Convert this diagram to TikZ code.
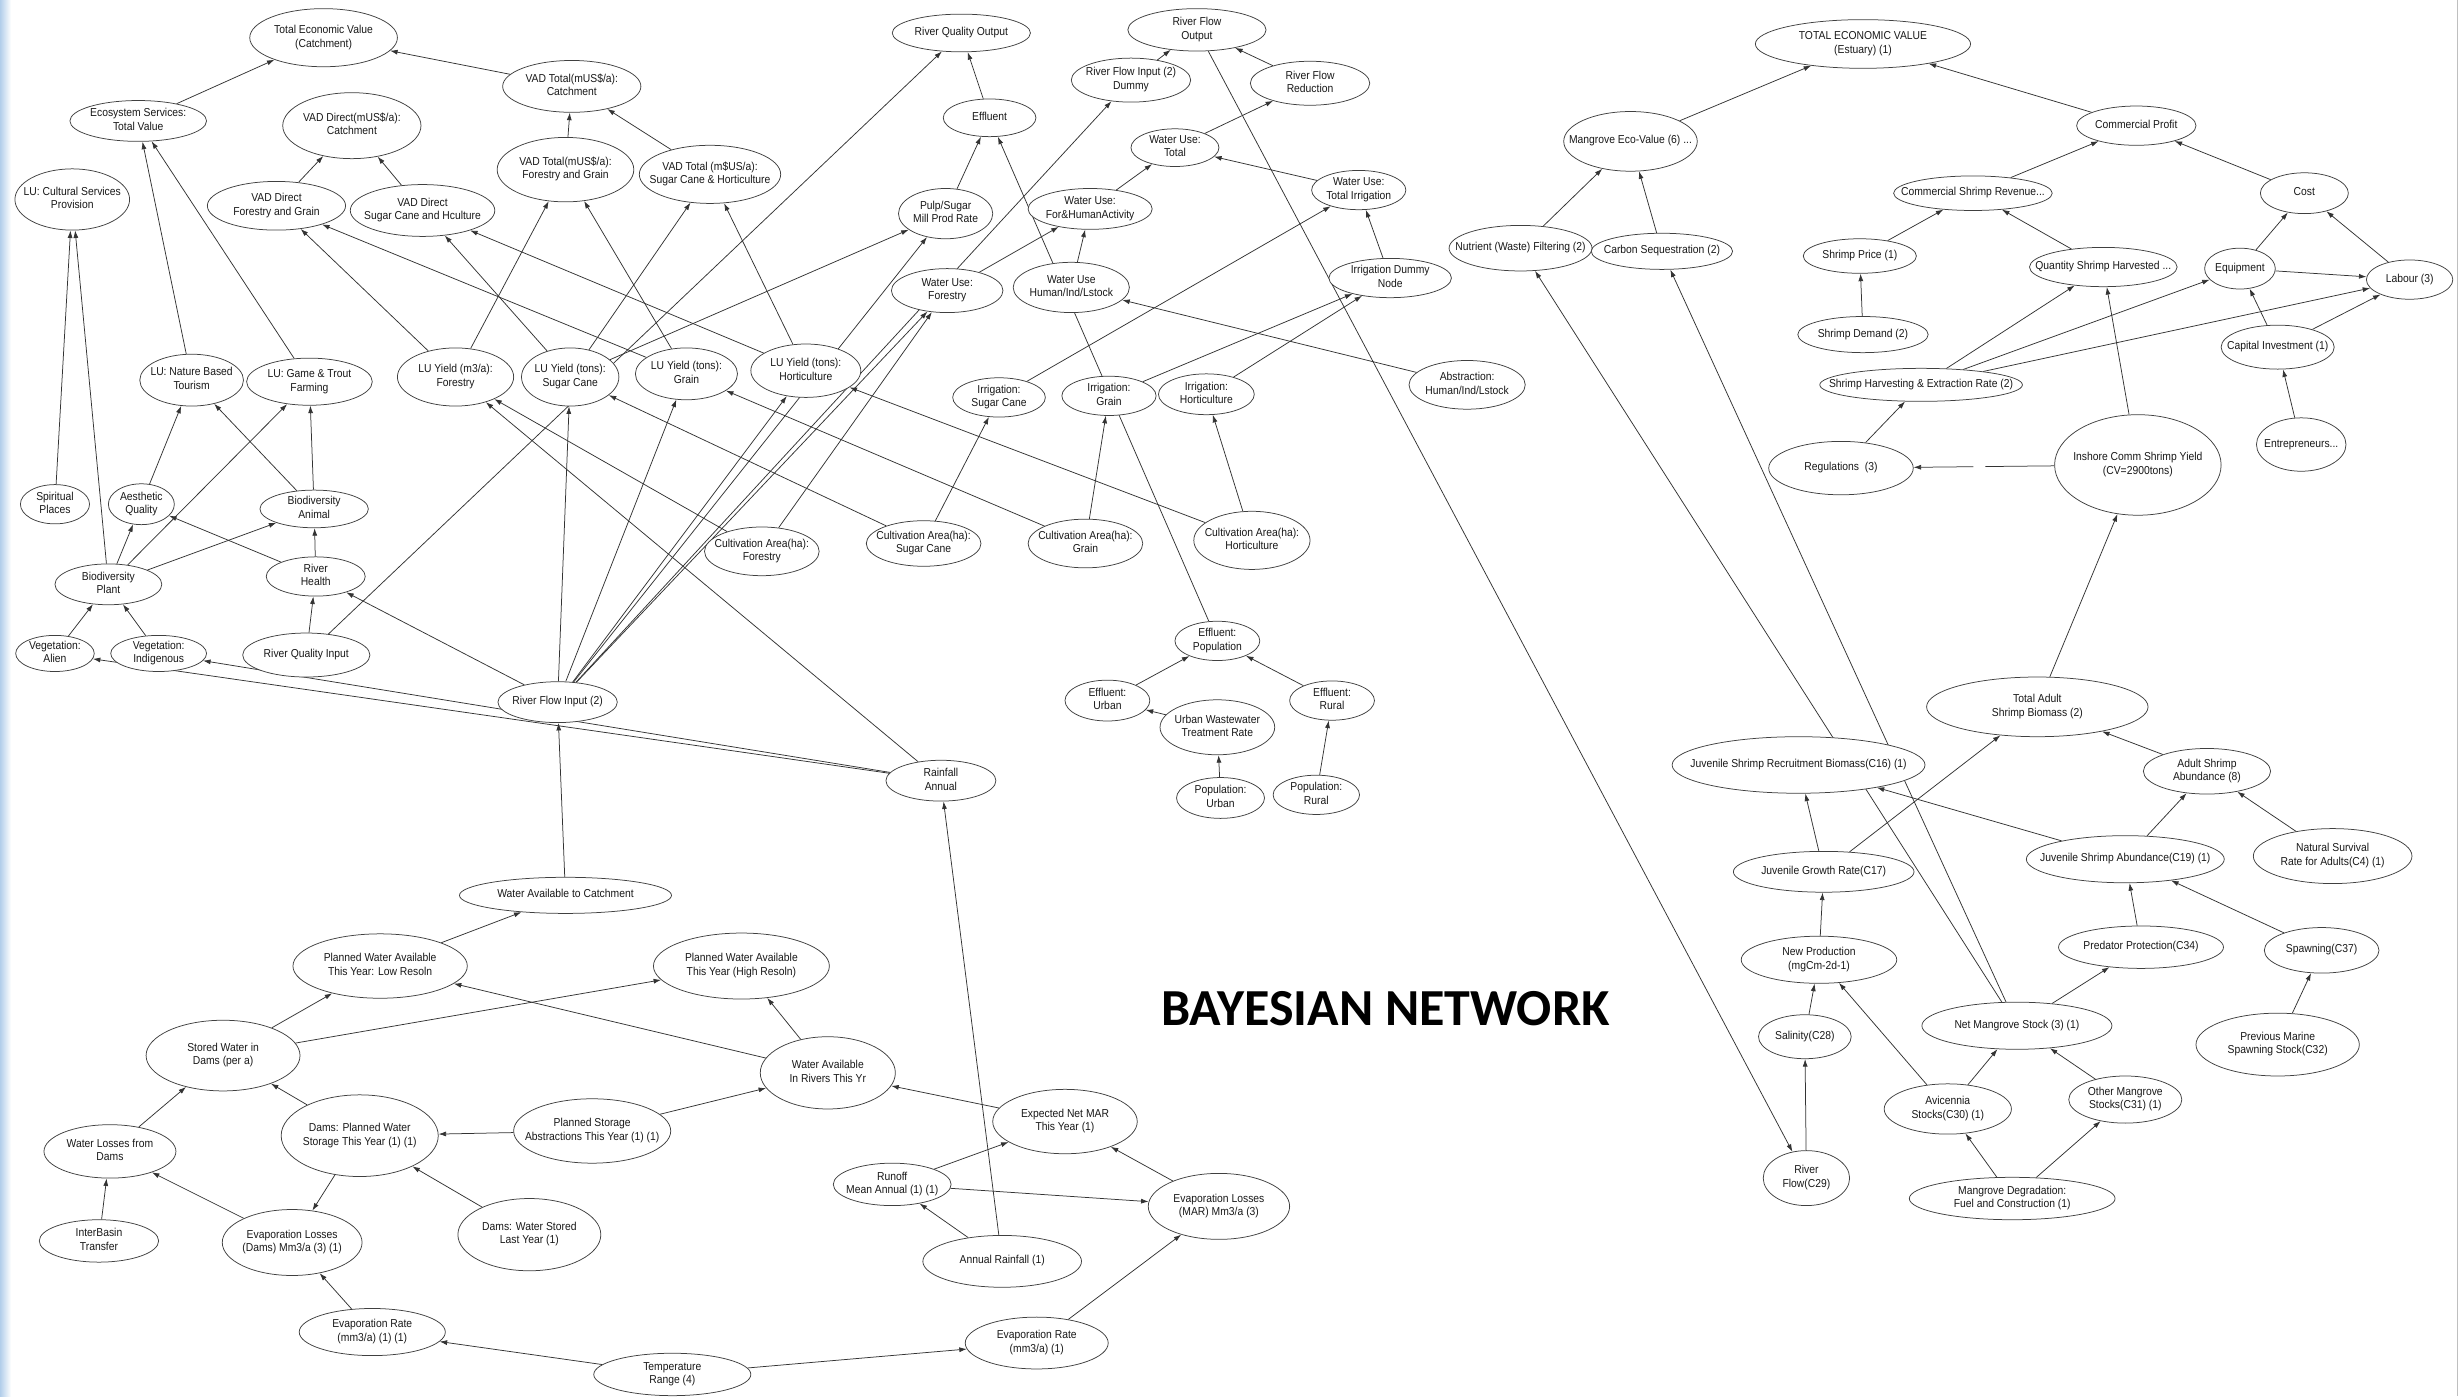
\documentclass[tikz,border=0pt]{standalone}
\usepackage{fontspec}
\setmainfont{Liberation Sans}
\newfontfamily\nodefont{Liberation Sans}[FakeStretch=0.9]
\newfontfamily\titlefont{Carlito}
\usetikzlibrary{shapes.geometric,arrows.meta,backgrounds}
\newcommand{\ntext}[1]{\smash{\raisebox{-0.25em}{\makebox[0pt]{\begin{tabular}{@{}c@{}}#1\end{tabular}}}}}
\newcommand{\EN}[6]{\node[ell, minimum width=#4*1.5708pt, minimum height=#5*1.5708pt] (#1) at (#2,#3) {\ntext{#6}};}
\newcommand{\ED}[2]{\draw[arr] (#1) -- (#2);}
\tikzset{
  ell/.style={ellipse, draw=black!75, line width=0.75pt, fill=white, inner sep=0pt,
              font=\nodefont\fontsize{11.5}{13.5}\selectfont, text=black!90},
  arr/.style={-{Latex[length=7.5pt,width=5pt]}, line width=0.75pt, draw=black!80}
}
\begin{document}
\begin{tikzpicture}[x=1.5708pt,y=-1.5708pt]
\useasboundingbox (0,0) rectangle (1568,889);

% ---------- catchment: value ----------
\EN{TEVc}{206}{24}{94}{37}{Total Economic Value\\(Catchment)}
\EN{VADTc}{364}{55}{88}{33}{VAD Total(mUS\$/a):\\Catchment}
\EN{ESTV}{88}{77}{87}{26}{Ecosystem Services:\\Total Value}
\EN{VADDc}{224}{80}{88}{42}{VAD Direct(mUS\$/a):\\Catchment}
\EN{LUCSP}{46}{127}{73}{39}{LU: Cultural Services\\Provision}
\EN{VADDfg}{176}{131}{88}{31}{VAD Direct\\Forestry and Grain}
\EN{VADDsh}{269}{134}{92}{33}{VAD Direct\\Sugar Cane and Hculture}
\EN{VADTfg}{360}{108}{87}{41}{VAD Total(mUS\$/a):\\Forestry and Grain}
\EN{VADTsh}{452}{111}{90}{37}{VAD Total (m\$US/a):\\Sugar Cane \& Horticulture}
\EN{LUNBT}{122}{242}{66}{33}{LU: Nature Based\\Tourism}
\EN{LUGTF}{197}{243}{80}{30}{LU: Game \& Trout\\Farming}
\EN{LUYfor}{290}{240}{74}{37}{LU Yield (m3/a):\\Forestry}
\EN{LUYsc}{363}{240}{62}{37}{LU Yield (tons):\\Sugar Cane}
\EN{LUYg}{437}{238}{65}{33}{LU Yield (tons):\\Grain}
\EN{LUYh}{513}{236}{70}{34}{LU Yield (tons):\\Horticulture}
% ---------- catchment: water use ----------
\EN{RQO}{612}{21}{88}{24}{River Quality Output}
\EN{RFO}{762}{19}{88}{27}{River Flow\\Output}
\EN{Effl}{630}{75}{59}{24}{Effluent}
\EN{RFItwoD}{720}{51}{76}{28}{River Flow Input (2)\\Dummy}
\EN{WUT}{748}{94}{56}{24}{Water Use:\\Total}
\EN{PSMP}{602}{136}{60}{32}{Pulp/Sugar\\Mill Prod Rate}
\EN{WUFHA}{694}{133}{79}{26}{Water Use:\\For\&HumanActivity}
\EN{WUF}{603}{185}{71}{28}{Water Use:\\Forestry}
\EN{WUH}{682}{183}{74}{32}{Water Use\\Human/Ind/Lstock}
\EN{IrrSC}{636}{253}{59}{25}{Irrigation:\\Sugar Cane}
\EN{IrrG}{706}{252}{60}{25}{Irrigation:\\Grain}
\EN{IrrH}{768}{251}{61}{26}{Irrigation:\\Horticulture}
\EN{RFR}{834}{53}{76}{28}{River Flow\\Reduction}
\EN{WUTI}{865}{121}{60}{25}{Water Use:\\Total Irrigation}
\EN{IDN}{885}{177}{78}{25}{Irrigation Dummy\\Node}
\EN{AHIL}{934}{245}{74}{31}{Abstraction:\\Human/Ind/Lstock}
% ---------- catchment: ecology ----------
\EN{SpP}{35}{321}{44}{25}{Spiritual\\Places}
\EN{AQ}{90}{321}{42}{26}{Aesthetic\\Quality}
\EN{BA}{200}{324}{69}{24}{Biodiversity\\Animal}
\EN{BP}{69}{372}{68}{26}{Biodiversity\\Plant}
\EN{RH}{201}{367}{63}{25}{River\\Health}
\EN{VA}{35}{416}{50}{23}{Vegetation:\\Alien}
\EN{VI}{101}{416}{61}{23}{Vegetation:\\Indigenous}
\EN{RQI}{195}{417}{81}{28}{River Quality Input}
\EN{RFI}{355}{447}{76}{26}{River Flow Input (2)}
\EN{WAC}{360}{570}{135}{23}{Water Available to Catchment}
\EN{CAF}{485}{351}{73}{31}{Cultivation Area(ha):\\Forestry}
\EN{CASC}{588}{346}{73}{29}{Cultivation Area(ha):\\Sugar Cane}
\EN{CAG}{691}{346}{73}{31}{Cultivation Area(ha):\\Grain}
\EN{CAH}{797}{344}{74}{37}{Cultivation Area(ha):\\Horticulture}
\EN{RA}{599}{497}{70}{26}{Rainfall\\Annual}
\EN{EU}{705}{446}{54}{26}{Effluent:\\Urban}
\EN{EP}{775}{408}{54}{25}{Effluent:\\Population}
\EN{ER}{848}{446}{54}{25}{Effluent:\\Rural}
\EN{UWTR}{775}{463}{73}{35}{Urban Wastewater\\Treatment Rate}
\EN{PU}{777}{508}{56}{26}{Population:\\Urban}
\EN{PR}{838}{506}{55}{25}{Population:\\Rural}
% ---------- catchment: hydrology ----------
\EN{PWLR}{242}{615}{111}{41}{Planned Water Available\\This Year: Low Resoln}
\EN{SWD}{142}{672}{98}{45}{Stored Water in\\Dams (per a)}
\EN{WLD}{70}{733}{84}{34}{Water Losses from\\Dams}
\EN{DPWS}{229}{723}{100}{52}{Dams: Planned Water\\Storage This Year (1) (1)}
\EN{PSA}{377}{720}{100}{41}{Planned Storage\\Abstractions This Year (1) (1)}
\EN{IBT}{63}{790}{76}{27}{InterBasin\\Transfer}
\EN{ELD}{186}{791}{89}{42}{Evaporation Losses\\(Dams) Mm3/a (3) (1)}
\EN{DWSL}{337}{786}{91}{46}{Dams: Water Stored\\Last Year (1)}
\EN{ERD}{237}{848}{93}{30}{Evaporation Rate\\(mm3/a) (1) (1)}
\EN{PWHR}{472}{615}{112}{42}{Planned Water Available\\This Year (High Resoln)}
\EN{WAR}{527}{683}{86}{46}{Water Available\\In Rivers This Yr}
\EN{ENM}{678}{714}{92}{41}{Expected Net MAR\\This Year (1)}
\EN{RMA}{568}{754}{75}{27}{Runoff\\Mean Annual (1) (1)}
\EN{AR}{638}{803}{101}{33}{Annual Rainfall (1)}
\EN{ELM}{776}{768}{90}{42}{Evaporation Losses\\(MAR) Mm3/a (3)}
\EN{ERM}{660}{855}{91}{33}{Evaporation Rate\\(mm3/a) (1)}
\EN{TR}{428}{875}{100}{27}{Temperature\\Range (4)}
% ---------- estuary ----------
\EN{MEV}{1038}{90}{85}{38}{Mangrove Eco-Value (6) ...}
\EN{NWF}{968}{158}{91}{29}{Nutrient (Waste) Filtering (2)}
\EN{CSeq}{1058}{160}{90}{23}{Carbon Sequestration (2)}
\EN{TEVe}{1186}{28}{137}{31}{TOTAL ECONOMIC VALUE\\(Estuary) (1)}
\EN{CP}{1360}{80}{76}{25}{Commercial Profit}
\EN{CSR}{1256}{123}{101}{22}{Commercial Shrimp Revenue...}
\EN{Cost}{1467}{123}{56}{26}{Cost}
\EN{SP}{1184}{163}{72}{22}{Shrimp Price (1)}
\EN{QSH}{1339}{170}{94}{25}{Quantity Shrimp Harvested ...}
\EN{Equip}{1426}{171}{45}{26}{Equipment}
\EN{Labour}{1534}{178}{55}{25}{Labour (3)}
\EN{SD}{1186}{213}{83}{23}{Shrimp Demand (2)}
\EN{CI}{1450}{221}{72}{28}{Capital Investment (1)}
\EN{SHER}{1223}{245}{129}{21}{Shrimp Harvesting \& Extraction Rate (2)}
\EN{Entre}{1465}{283}{57}{34}{Entrepreneurs...}
\EN{Regs}{1172}{298}{92}{34}{Regulations \ (3)}
\EN{ICSY}{1361}{296}{106}{64}{Inshore Comm Shrimp Yield\\(CV=2900tons)}
\EN{TASB}{1297}{450}{141}{38}{Total Adult\\Shrimp Biomass (2)}
\EN{ASA}{1405}{491}{81}{29}{Adult Shrimp\\Abundance (8)}
\EN{JSRB}{1145}{487}{161}{36}{Juvenile Shrimp Recruitment Biomass(C16) (1)}
\EN{JSA}{1353}{547}{126}{30}{Juvenile Shrimp Abundance(C19) (1)}
\EN{NSR}{1485}{545}{101}{35}{Natural Survival\\Rate for Adults(C4) (1)}
\EN{PP}{1363}{603}{105}{27}{Predator Protection(C34)}
\EN{Spawn}{1478}{605}{73}{29}{Spawning(C37)}
\EN{JGR}{1161}{555}{115}{26}{Juvenile Growth Rate(C17)}
\EN{NP}{1158}{611}{99}{30}{New Production\\(mgCm-2d-1)}
\EN{Sal}{1149}{660}{59}{28}{Salinity(C28)}
\EN{RFtn}{1150}{750}{55}{35}{River\\Flow(C29)}
\EN{NMS}{1284}{653}{121}{30}{Net Mangrove Stock (3) (1)}
\EN{PMSS}{1450}{665}{104}{40}{Previous Marine\\Spawning Stock(C32)}
\EN{AvS}{1240}{706}{81}{32}{Avicennia\\Stocks(C30) (1)}
\EN{OMS}{1353}{700}{72}{30}{Other Mangrove\\Stocks(C31) (1)}
\EN{MD}{1281}{763}{131}{27}{Mangrove Degradation:\\Fuel and Construction (1)}

\node[font=\titlefont\bfseries\fontsize{52}{60}\selectfont, inner sep=0pt] (title) at (882,642) {BAYESIAN NETWORK};

\begin{scope}[on background layer]
\fill[white] (0,0) rectangle (1568,889);
\shade[left color={rgb,255:red,178;green,206;blue,234}, right color=white] (0,0) rectangle (7,889);
\draw[black!25, line width=0.6pt] (1564.5,0) -- (1564.5,889);
% value
\ED{ESTV}{TEVc} \ED{VADTc}{TEVc} \ED{VADDfg}{VADDc} \ED{VADDsh}{VADDc}
\ED{VADTfg}{VADTc} \ED{VADTsh}{VADTc}
\ED{LUYfor}{VADDfg} \ED{LUYg}{VADDfg} \ED{LUYsc}{VADDsh} \ED{LUYh}{VADDsh}
\ED{LUYfor}{VADTfg} \ED{LUYg}{VADTfg} \ED{LUYsc}{VADTsh} \ED{LUYh}{VADTsh}
\ED{LUNBT}{ESTV} \ED{LUGTF}{ESTV}
\ED{SpP}{LUCSP} \ED{BP}{LUCSP}
\ED{AQ}{LUNBT} \ED{BA}{LUNBT} \ED{BP}{LUGTF} \ED{BA}{LUGTF}
\ED{BP}{AQ} \ED{RH}{AQ} \ED{BP}{BA} \ED{RH}{BA} \ED{RQI}{RH} \ED{RFI}{RH}
\ED{VA}{BP} \ED{VI}{BP}
\ED{RA}{VA} \ED{RA}{VI} \ED{RA}{LUYfor} \ED{AR}{RA}
% water use
\ED{RQI}{RQO} \ED{Effl}{RQO} \ED{PSMP}{Effl} \ED{EP}{Effl}
\ED{LUYsc}{PSMP} \ED{RFI}{PSMP}
\ED{RFI}{LUYsc} \ED{RFI}{LUYg} \ED{RFI}{LUYh} \ED{RFI}{WUF} \ED{RFI}{RFItwoD}
\ED{CAF}{LUYfor} \ED{CASC}{LUYsc} \ED{CAG}{LUYg} \ED{CAH}{LUYh}
\ED{CAF}{WUF} \ED{CASC}{IrrSC} \ED{CAG}{IrrG} \ED{CAH}{IrrH}
\ED{IrrSC}{WUTI} \ED{IrrG}{IDN} \ED{IrrH}{IDN} \ED{IDN}{WUTI} \ED{WUTI}{WUT}
\ED{WUFHA}{WUT} \ED{WUT}{RFR} \ED{RFR}{RFO} \ED{RFItwoD}{RFO}
\ED{WUF}{WUFHA} \ED{WUH}{WUFHA} \ED{AHIL}{WUH}
\ED{RFO}{RFtn}
\ED{EU}{EP} \ED{ER}{EP} \ED{UWTR}{EU} \ED{PU}{UWTR} \ED{PR}{ER}
% hydrology
\ED{WAC}{RFI} \ED{PWLR}{WAC} \ED{SWD}{PWLR} \ED{SWD}{PWHR} \ED{WAR}{PWLR} \ED{WAR}{PWHR}
\ED{PSA}{WAR} \ED{PSA}{DPWS} \ED{DPWS}{SWD} \ED{WLD}{SWD} \ED{IBT}{WLD} \ED{ELD}{WLD}
\ED{DPWS}{ELD} \ED{DWSL}{DPWS} \ED{ERD}{ELD} \ED{TR}{ERD} \ED{TR}{ERM} \ED{ERM}{ELM}
\ED{ELM}{ENM} \ED{RMA}{ENM} \ED{RMA}{ELM} \ED{AR}{RMA} \ED{ENM}{WAR}
% estuary
\ED{MEV}{TEVe} \ED{CP}{TEVe} \ED{NWF}{MEV} \ED{CSeq}{MEV}
\ED{CSR}{CP} \ED{Cost}{CP} \ED{SP}{CSR} \ED{QSH}{CSR} \ED{SD}{SP}
\ED{Equip}{Cost} \ED{Labour}{Cost} \ED{Equip}{Labour} \ED{CI}{Equip} \ED{CI}{Labour}
\ED{SHER}{QSH} \ED{SHER}{Equip} \ED{SHER}{Labour} \ED{ICSY}{QSH} \ED{Regs}{SHER}
\draw[arr, dash pattern=on 69pt off 12pt on 300pt off 0pt] (ICSY) -- (Regs);
\ED{Entre}{CI} \ED{TASB}{ICSY} \ED{ASA}{TASB} \ED{JGR}{TASB}
\ED{JSA}{ASA} \ED{NSR}{ASA} \ED{JSA}{JSRB} \ED{PP}{JSA} \ED{Spawn}{JSA}
\ED{JGR}{JSRB} \ED{NP}{JGR} \ED{Sal}{NP} \ED{RFtn}{Sal} \ED{AvS}{NP}
\ED{AvS}{NMS} \ED{OMS}{NMS} \ED{MD}{AvS} \ED{MD}{OMS} \ED{NMS}{PP} \ED{PMSS}{Spawn}
\ED{NMS}{NWF} \ED{NMS}{CSeq}
\end{scope}
\end{tikzpicture}
\end{document}
